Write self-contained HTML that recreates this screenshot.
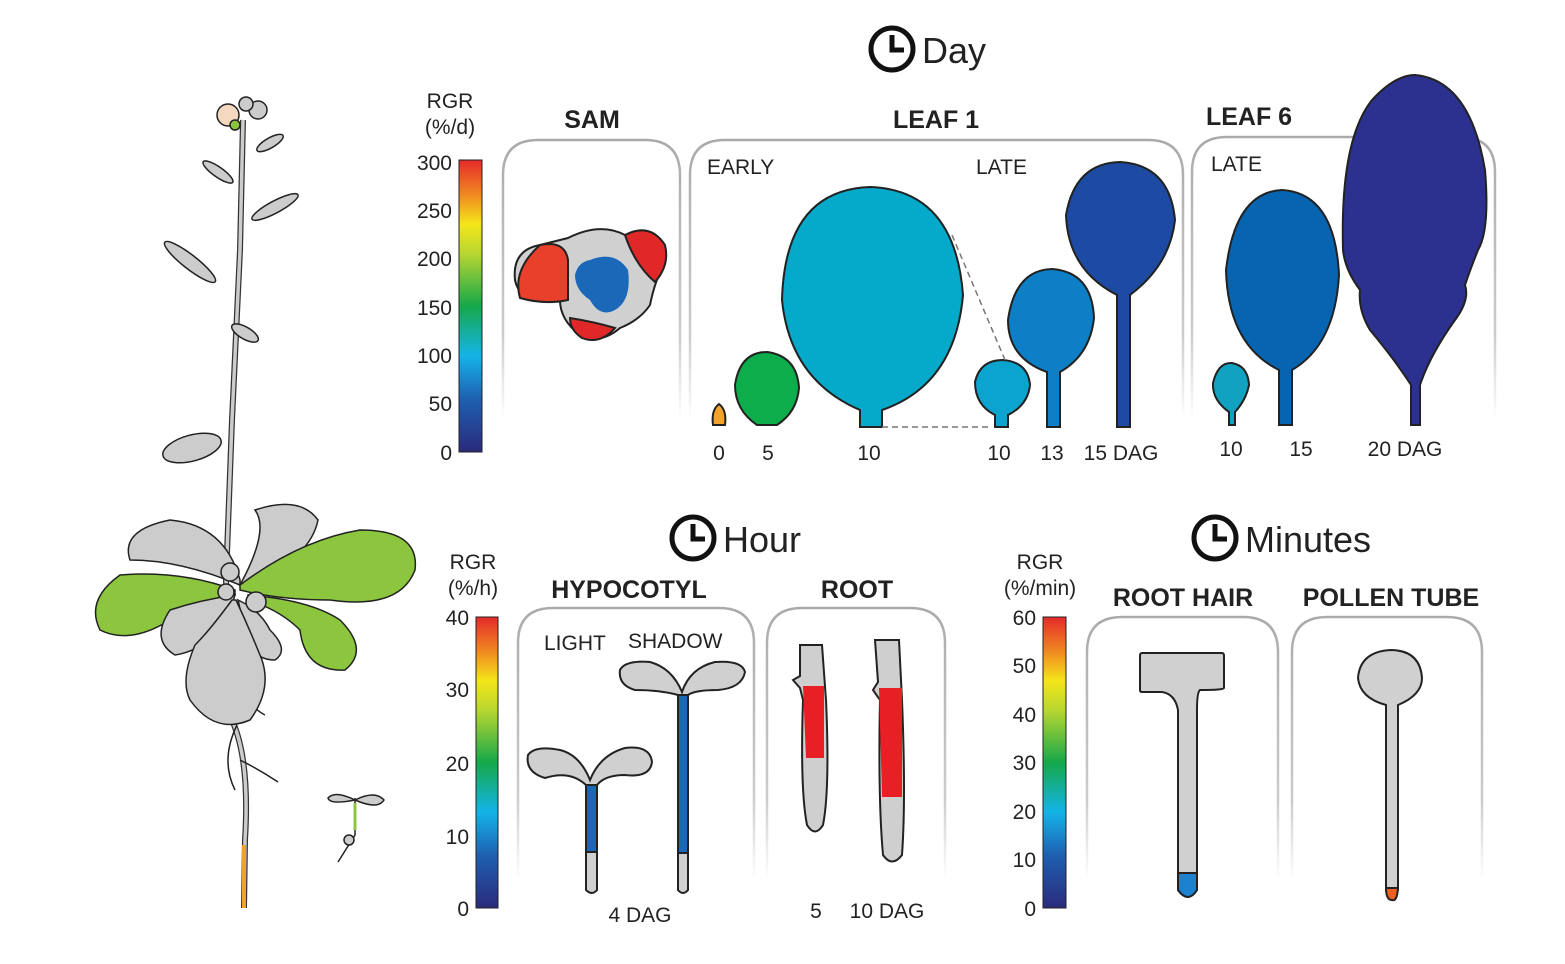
<!DOCTYPE html>
<html><head><meta charset="utf-8"><style>
body{margin:0;background:#fff}
svg{display:block}
text{font-family:"Liberation Sans",Arial,sans-serif;fill:#222}
.b{font-weight:bold;font-size:25px}
.n{font-size:21px}
</style></head><body>
<svg width="1565" height="964" viewBox="0 0 1565 964" xmlns="http://www.w3.org/2000/svg">
<defs>
<linearGradient id="rb" x1="0" y1="1" x2="0" y2="0">
<stop offset="0" stop-color="#2b2a7c"/><stop offset="0.18" stop-color="#1f5fb0"/><stop offset="0.33" stop-color="#14b4e8"/><stop offset="0.5" stop-color="#16a84a"/><stop offset="0.68" stop-color="#b8d630"/><stop offset="0.78" stop-color="#f4e61a"/><stop offset="0.88" stop-color="#f08a20"/><stop offset="1" stop-color="#e52a2a"/>
</linearGradient>
<linearGradient id="pf" x1="0" y1="0" x2="0" y2="1"><stop offset="0" stop-color="#aaa"/><stop offset="0.7" stop-color="#ccc"/><stop offset="1" stop-color="#fff"/></linearGradient>
</defs>

<g stroke="#111" stroke-width="5" fill="none">
<circle cx="892" cy="49" r="21"/><path d="M892 35V50H904"/>
<circle cx="693" cy="538" r="21"/><path d="M693 524V539H705"/>
<circle cx="1215" cy="538" r="21"/><path d="M1215 524V539H1227"/>
</g>
<text x="922" y="63" style="font-size:36px">Day</text>
<text x="723" y="552" style="font-size:36px">Hour</text>
<text x="1245" y="552" style="font-size:36px">Minutes</text>

<rect x="459" y="160" width="23" height="292" fill="url(#rb)" stroke="#222"/>
<rect x="476" y="617" width="22" height="291" fill="url(#rb)" stroke="#222"/>
<rect x="1043" y="617" width="23" height="291" fill="url(#rb)" stroke="#222"/>
<text x="450" y="108" class="n" text-anchor="middle">RGR</text><text x="450" y="134" class="n" text-anchor="middle">(%/d)</text>
<g class="n" text-anchor="end">
<text x="452" y="170">300</text><text x="452" y="218">250</text><text x="452" y="266">200</text><text x="452" y="315">150</text><text x="452" y="363">100</text><text x="452" y="411">50</text><text x="452" y="460">0</text>
</g>
<text x="473" y="569" class="n" text-anchor="middle">RGR</text><text x="473" y="595" class="n" text-anchor="middle">(%/h)</text>
<g class="n" text-anchor="end">
<text x="469" y="625">40</text><text x="469" y="697">30</text><text x="469" y="771">20</text><text x="469" y="844">10</text><text x="469" y="916">0</text>
</g>
<text x="1040" y="569" class="n" text-anchor="middle">RGR</text><text x="1040" y="595" class="n" text-anchor="middle">(%/min)</text>
<g class="n" text-anchor="end">
<text x="1036" y="625">60</text><text x="1036" y="673">50</text><text x="1036" y="722">40</text><text x="1036" y="770">30</text><text x="1036" y="819">20</text><text x="1036" y="867">10</text><text x="1036" y="916">0</text>
</g>

<g fill="none" stroke="url(#pf)" stroke-width="2.5">
<path d="M503 420V175Q503 140 538 140H645Q680 140 680 175V420"/>
<path d="M690 420V175Q690 140 725 140H1148Q1183 140 1183 175V420"/>
<path d="M1192 420V172Q1192 137 1227 137H1460Q1495 137 1495 172V420"/>
<path d="M518 880V643Q518 608 553 608H719Q754 608 754 643V880"/>
<path d="M767 880V643Q767 608 802 608H910Q945 608 945 643V880"/>
<path d="M1087 880V652Q1087 617 1122 617H1243Q1278 617 1278 652V880"/>
<path d="M1292 880V652Q1292 617 1327 617H1447Q1482 617 1482 652V880"/>
</g>

<text x="592" y="128" class="b" text-anchor="middle">SAM</text>
<text x="936" y="128" class="b" text-anchor="middle">LEAF 1</text>
<text x="1249" y="125" class="b" text-anchor="middle">LEAF 6</text>
<text x="629" y="598" class="b" text-anchor="middle">HYPOCOTYL</text>
<text x="857" y="598" class="b" text-anchor="middle">ROOT</text>
<text x="1183" y="606" class="b" text-anchor="middle">ROOT HAIR</text>
<text x="1391" y="606" class="b" text-anchor="middle">POLLEN TUBE</text>
<text x="707" y="174" class="n">EARLY</text>
<text x="976" y="174" class="n">LATE</text>
<text x="1211" y="171" class="n">LATE</text>
<text x="544" y="650" class="n">LIGHT</text>
<text x="628" y="648" class="n">SHADOW</text>
<g class="n" text-anchor="middle">
<text x="719" y="460">0</text><text x="768" y="460">5</text><text x="869" y="460">10</text><text x="999" y="460">10</text><text x="1052" y="460">13</text><text x="1121" y="460">15 DAG</text>
<text x="1231" y="456">10</text><text x="1301" y="456">15</text><text x="1405" y="456">20 DAG</text>
<text x="640" y="922">4 DAG</text><text x="816" y="918">5</text><text x="887" y="918">10 DAG</text>
</g>

<g stroke="#222" stroke-width="2">
<path d="M568 238Q600 222 625 235Q660 230 665 262Q655 280 650 305Q640 320 620 328Q600 345 580 335Q560 320 560 300Q520 305 515 280Q512 250 540 245Z" fill="#d0d0d0"/>
<path d="M540 245Q565 240 568 260L568 300Q545 305 520 298Q512 270 540 245Z" fill="#e8402a"/>
<path d="M625 235Q650 222 665 245Q670 265 655 282Q635 265 625 235Z" fill="#e02828"/>
<path d="M570 318Q595 322 615 328Q600 345 582 338Q570 330 570 318Z" fill="#e02828"/>
<path d="M590 260Q615 250 628 270Q632 300 615 310Q600 318 590 300Q575 290 575 275Q578 262 590 260Z" fill="#1c68b8" stroke="none"/>
</g>

<g stroke="#222" stroke-width="2">
<path d="M713 425Q711 410 719 404Q727 410 725 425Z" fill="#f2a12a"/>
<path d="M757 425Q735 410 735 385Q740 352 767 352Q797 356 799 388Q797 412 777 425Z" fill="#0cad4a"/>
<path d="M860 427V410Q790 380 782 300Q785 190 870 187Q955 190 963 295Q955 385 882 410V427Z" fill="#05a9c9"/>
<path d="M995 427V415Q975 405 975 382Q980 360 1003 360Q1028 362 1030 385Q1028 405 1008 415V427Z" fill="#0ba4cf"/>
<path d="M1047 427V372Q1008 358 1008 320Q1015 270 1052 269Q1092 272 1094 318Q1090 355 1060 372V427Z" fill="#0c7fc6"/>
<path d="M1117 427V295Q1068 270 1066 215Q1075 163 1120 162Q1170 165 1175 220Q1170 265 1130 295V427Z" fill="#1d4ba3"/>
</g>
<path d="M952 235L1005 360M882 427H990" stroke="#777" stroke-width="1.5" stroke-dasharray="6,4" fill="none"/>

<g stroke="#222" stroke-width="2">
<path d="M1229 425V412Q1212 400 1213 383Q1218 362 1232 363Q1248 366 1249 385Q1246 400 1235 412V425Z" fill="#11a2c1"/>
<path d="M1279 425V370Q1228 345 1226 270Q1235 192 1282 190Q1335 193 1339 275Q1335 345 1292 370V425Z" fill="#0664b0"/>
<path d="M1411 425V385Q1395 360 1370 330Q1358 310 1360 290Q1345 270 1343 250Q1340 140 1372 100Q1395 75 1415 75Q1470 80 1485 170Q1490 230 1478 250Q1470 270 1465 285Q1470 300 1455 320Q1430 355 1420 385V425Z" fill="#2c3190"/>
</g>

<g stroke="#222" stroke-width="2">
<path d="M586 890V785Q570 770 545 778Q525 772 528 755Q535 745 560 750Q580 755 590 780Q600 755 625 748Q650 745 652 762Q650 778 625 775Q605 775 597 785V890Q592 896 586 890Z" fill="#d0d0d0"/>
<rect x="586" y="785" width="11" height="67" fill="#1c68b8"/>
<path d="M678 890V695Q660 690 635 690Q618 685 620 670Q625 660 650 662Q672 668 682 692Q690 668 715 662Q742 660 745 672Q742 688 718 690Q695 690 688 695V890Q683 896 678 890Z" fill="#d0d0d0"/>
<rect x="678" y="695" width="10" height="158" fill="#1c68b8"/>
</g>

<g stroke="#222" stroke-width="2">
<path d="M800 645H822L826 700Q830 790 823 825Q815 838 807 825Q800 790 803 700L800 688L793 680L800 676Z" fill="#cfcfcf"/>
<path d="M803 686H824V758H806Z" fill="#e82026" stroke="none"/>
<path d="M875 640H899L902 700Q906 800 902 855Q892 868 883 855Q878 800 880 700L873 690L878 682Z" fill="#cfcfcf"/>
<path d="M879 688H902V797H882Z" fill="#e82026" stroke="none"/>
</g>

<g stroke="#222" stroke-width="2">
<path d="M1142 653H1222Q1224 653 1224 656V688Q1224 690 1200 690Q1197 692 1197 710V890Q1188 904 1178 890V710Q1175 694 1162 692H1142Q1140 692 1140 690V656Q1140 653 1142 653Z" fill="#d0d0d0"/>
<path d="M1178 873H1197V890Q1188 904 1178 890Z" fill="#1c82d0"/>
<path d="M1386 705V890Q1392 904 1398 890V705Q1422 695 1422 678Q1420 650 1390 650Q1360 652 1358 678Q1360 698 1386 705Z" fill="#d0d0d0"/>
<path d="M1386 888H1398Q1397 902 1392 900Q1386 900 1386 888Z" fill="#f06020"/>
</g>

<g stroke="#222" stroke-width="1.5">
<path d="M243 120L240 250L232 420L226 580L232 720Q250 760 245 840L244 908" fill="none" stroke="#333" stroke-width="6"/>
<path d="M243 120L240 250L232 420L226 580L232 720Q250 760 245 840L244 908" fill="none" stroke="#ccc" stroke-width="3.5"/>
<path d="M244 845L244 908" stroke="#f2a12a" stroke-width="4"/>
<path d="M237 725Q220 760 235 790M240 760Q260 770 278 782M236 690Q255 710 265 715" fill="none"/>
<ellipse cx="190" cy="262" rx="32" ry="7" transform="rotate(38 190 262)" fill="#ccc"/>
<ellipse cx="275" cy="207" rx="26" ry="6" transform="rotate(-28 275 207)" fill="#ccc"/>
<ellipse cx="218" cy="172" rx="18" ry="5" transform="rotate(35 218 172)" fill="#ccc"/>
<ellipse cx="270" cy="143" rx="15" ry="5" transform="rotate(-30 270 143)" fill="#ccc"/>
<ellipse cx="245" cy="333" rx="15" ry="6" transform="rotate(30 245 333)" fill="#ccc"/>
<ellipse cx="192" cy="448" rx="30" ry="13" transform="rotate(-15 192 448)" fill="#ccc"/>
<circle cx="258" cy="110" r="9" fill="#ccc"/><circle cx="246" cy="104" r="7" fill="#ccc"/>
<circle cx="228" cy="115" r="11" fill="#f5d8c0"/><circle cx="235" cy="125" r="5" fill="#8cc63e"/>
<path d="M240 585Q180 560 130 560Q120 530 170 520Q225 525 240 580Z" fill="#ccc"/>
<path d="M240 585Q270 530 255 510Q300 495 318 520Q310 560 245 585Z" fill="#ccc"/>
<path d="M240 585Q300 540 360 530Q420 530 415 570Q400 610 330 600Q280 600 240 590Z" fill="#8cc63e"/>
<path d="M235 590Q180 570 120 575Q85 600 100 630Q130 645 170 620Q210 605 235 595Z" fill="#8cc63e"/>
<path d="M248 595Q310 600 340 620Q370 650 345 670Q305 672 300 630Q280 610 248 600Z" fill="#8cc63e"/>
<path d="M235 595Q200 600 170 610Q150 640 175 655Q210 650 230 610Z" fill="#ccc"/>
<path d="M238 600Q260 610 270 630Q290 650 275 660Q250 660 245 630Z" fill="#ccc"/>
<path d="M232 600Q210 630 195 645Q180 680 190 700Q215 735 250 720Q272 690 262 660Q250 630 236 600Z" fill="#ccc"/>
<circle cx="256" cy="602" r="10" fill="#ccc"/><circle cx="230" cy="572" r="9" fill="#ccc"/><circle cx="226" cy="592" r="8" fill="#ccc"/>
<path d="M355 798V835L338 862" fill="none"/>
<path d="M355 800Q330 805 328 798Q335 790 355 800Q375 790 384 800Q378 810 355 800Z" fill="#ccc"/>
<path d="M355 803V830" stroke="#8cc63e" stroke-width="3"/>
<circle cx="349" cy="840" r="5" fill="#ccc"/>
</g>
</svg>
</body></html>
